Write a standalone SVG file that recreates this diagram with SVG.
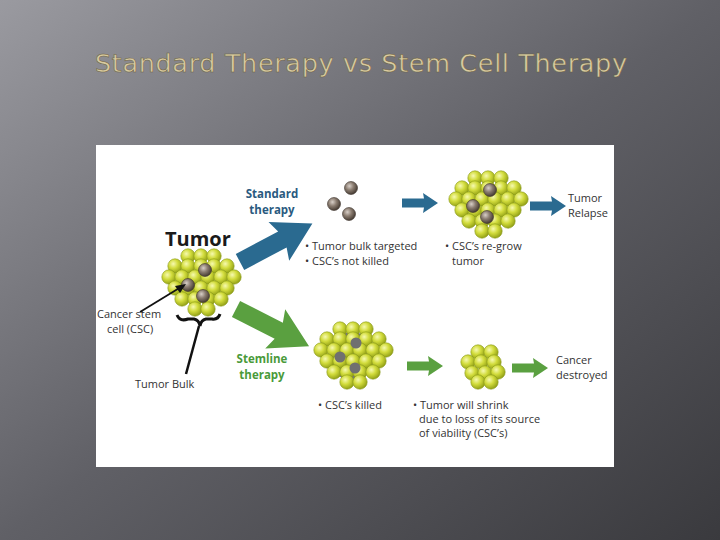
<svg xmlns="http://www.w3.org/2000/svg" xmlns:xlink="http://www.w3.org/1999/xlink" width="720" height="540" viewBox="0 0 720 540">
<style>
.t{font-family:"Open Sans","Liberation Sans",sans-serif;font-size:11px;fill:#333}
.b{font-family:"Open Sans","Liberation Sans",sans-serif;font-size:11.5px;font-weight:bold;text-anchor:middle}
</style>
<defs>
<linearGradient id="bg" x1="0" y1="0" x2="1" y2="1"><stop offset="0" stop-color="#9a9aa0"/><stop offset="0.5" stop-color="#606066"/><stop offset="1" stop-color="#3a3a3e"/></linearGradient>
<radialGradient id="cg" cx="0.38" cy="0.35" r="0.7"><stop offset="0" stop-color="#f6f9b0"/><stop offset="0.45" stop-color="#d2dc3c"/><stop offset="1" stop-color="#8c9a12"/></radialGradient>
<radialGradient id="sg" cx="0.38" cy="0.35" r="0.7"><stop offset="0" stop-color="#d8cfc8"/><stop offset="0.45" stop-color="#8a7c70"/><stop offset="1" stop-color="#3e342c"/></radialGradient>
<symbol id="c" overflow="visible"><circle r="7.2" fill="url(#cg)" stroke="#8a9a1a" stroke-width="0.6"/></symbol>
<symbol id="s" overflow="visible"><circle r="6.5" fill="url(#sg)" stroke="#3a302a" stroke-width="0.6"/></symbol>
<g id="cl">
<use href="#c" x="-12" y="-27"/><use href="#c" x="1" y="-27"/><use href="#c" x="14" y="-27"/>
<use href="#c" x="-25" y="-17"/><use href="#c" x="-12" y="-17"/><use href="#c" x="1" y="-17"/><use href="#c" x="14" y="-17"/><use href="#c" x="27" y="-17"/>
<use href="#c" x="-31" y="-6"/><use href="#c" x="-18" y="-6"/><use href="#c" x="-5" y="-6"/><use href="#c" x="8" y="-6"/><use href="#c" x="21" y="-6"/><use href="#c" x="34" y="-6"/>
<use href="#c" x="-25" y="5"/><use href="#c" x="-12" y="5"/><use href="#c" x="1" y="5"/><use href="#c" x="14" y="5"/><use href="#c" x="27" y="5"/>
<use href="#c" x="-18" y="16"/><use href="#c" x="-5" y="16"/><use href="#c" x="8" y="16"/><use href="#c" x="21" y="16"/>
<use href="#c" x="-5" y="26"/><use href="#c" x="8" y="26"/>
</g>
<path id="big" d="M0,-9 L48,-9 L44,-22 L82,0 L44,22 L48,9 L0,9 Z"/>
<path id="sm" d="M0,-4.5 L22,-4.5 L21,-10 L36,0 L21,10 L22,4.5 L0,4.5 Z"/>
</defs>
<rect width="720" height="540" fill="url(#bg)"/>
<text x="95" y="72" font-family="DejaVu Sans,sans-serif" font-size="25.5" fill="#d9cba0" stroke="#6a5e40" stroke-width="0.5" textLength="532">Standard Therapy vs Stem Cell Therapy</text>
<rect x="96" y="145" width="518" height="322" fill="#fff"/>

<g id="tumor">
<text x="165" y="246" font-family="Open Sans,Liberation Sans,sans-serif" font-size="20" font-weight="bold" fill="#1a1a1a">Tumor</text>
<use href="#cl" x="200" y="283"/>
<use href="#s" x="205" y="270"/><use href="#s" x="188" y="285"/><use href="#s" x="203" y="296"/>
</g>
<g id="labels-left">
<text x="97" y="318" class="t">Cancer stem</text>
<text x="107" y="333" class="t">cell (CSC)</text>
<text x="135" y="388" class="t">Tumor Bulk</text>
<path d="M177,315 Q180,322 188,319 L194,319 Q199,320 200,326 Q201,320 206,319 L212,319 Q218,320 220,314" fill="none" stroke="#111" stroke-width="3"/>
<path d="M199,326 L186,374" fill="none" stroke="#111" stroke-width="2.5"/>
</g>
<g id="connectors">
<use href="#big" fill="#2a6a90" transform="translate(240,262) rotate(-28)"/>
<use href="#big" fill="#5aa040" transform="translate(236,309) rotate(27)"/>
<use href="#sm" fill="#2a6a90" x="402" y="203"/>
<use href="#sm" fill="#2a6a90" x="530" y="206"/>
<use href="#sm" fill="#5aa040" x="407" y="366"/>
<use href="#sm" fill="#5aa040" x="512" y="368"/>
<path d="M140,312 L181,287" stroke="#111" stroke-width="1.8"/>
<path d="M186,284 L175,286 L180,293 Z" fill="#111"/>
</g>
<g id="standard">
<text x="272" y="198" class="b" fill="#2a5a80">Standard</text>
<text x="272" y="214" class="b" fill="#2a5a80">therapy</text>
<use href="#s" x="351" y="188"/><use href="#s" x="334" y="204"/><use href="#s" x="349" y="214"/>
<text x="305" y="250" class="t">• Tumor bulk targeted</text>
<text x="305" y="265" class="t">• CSC’s not killed</text>
</g>
<g id="regrow">
<use href="#cl" x="487" y="205"/>
<use href="#s" x="490" y="190"/><use href="#s" x="473" y="206"/><use href="#s" x="487" y="217"/>
<text x="445" y="250" class="t">• CSC’s re-grow</text>
<text x="452" y="265" class="t">tumor</text>
<text x="568" y="202" class="t">Tumor</text>
<text x="568" y="217" class="t">Relapse</text>
</g>
<g id="stemline">
<text x="262" y="363" class="b" fill="#4a9a3a">Stemline</text>
<text x="262" y="379" class="b" fill="#4a9a3a">therapy</text>
</g>
<g id="killed">
<circle cx="352" cy="356" r="24" fill="#777"/>
<use href="#cl" x="352" y="356"/>
<circle cx="356" cy="343" r="5.5" fill="#707070"/><circle cx="340" cy="357" r="5.5" fill="#707070"/><circle cx="355" cy="368" r="5.5" fill="#707070"/>
<text x="318" y="409" class="t">• CSC’s killed</text>
</g>
<g id="shrink">
<use href="#c" x="478" y="352"/><use href="#c" x="491" y="352"/>
<use href="#c" x="468" y="362"/><use href="#c" x="481" y="362"/><use href="#c" x="494" y="362"/>
<use href="#c" x="472" y="373"/><use href="#c" x="485" y="373"/><use href="#c" x="498" y="372"/>
<use href="#c" x="478" y="382"/><use href="#c" x="491" y="382"/>
<text x="413" y="409" class="t">• Tumor will shrink</text>
<text x="419" y="423" class="t">due to loss of its source</text>
<text x="419" y="437" class="t">of viability (CSC’s)</text>
<text x="556" y="364" class="t">Cancer</text>
<text x="556" y="379" class="t">destroyed</text>
</g>
</svg>
